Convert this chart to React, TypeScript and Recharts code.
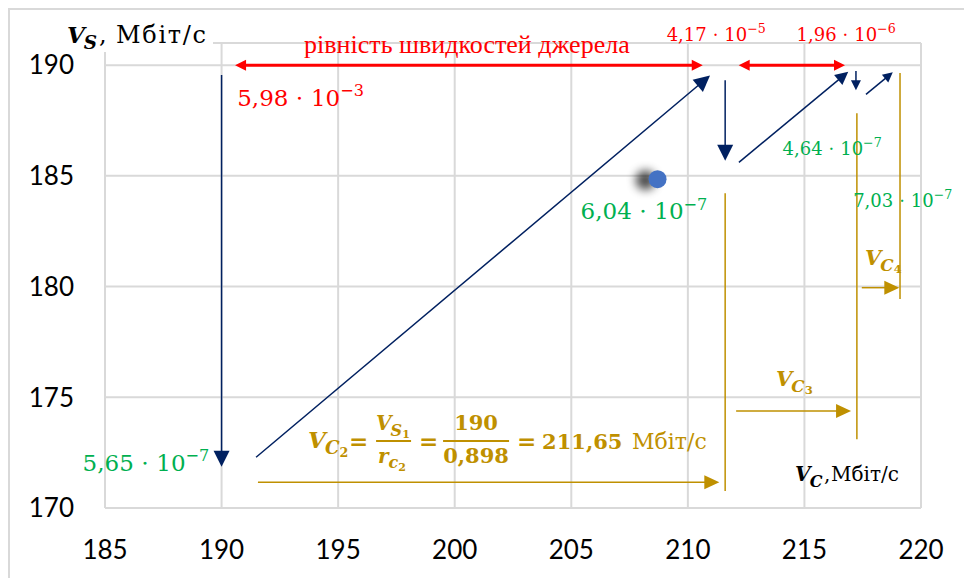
import React from "react"
import {
  ScatterChart,
  Scatter,
  XAxis,
  YAxis,
  CartesianGrid,
  ReferenceLine,
  ReferenceDot,
} from "recharts"

// axis ticks
const xTicks = [185, 190, 195, 200, 205, 210, 215, 220]
const yTicks = [170, 175, 180, 185, 190]

// the single measured point (V_C, V_S)
const points = [{ vc: 208.7, vs: 184.85 }]

// navy arrows: from (x1,y1) to (x2,y2) in Mbit/s
const navyArrows = [
  { x1: 190, y1: 189.55, x2: 190, y2: 171.86 },
  { x1: 191.48, y1: 172.29, x2: 210.95, y2: 189.53 },
  { x1: 211.6, y1: 189.32, x2: 211.6, y2: 185.68 },
  { x1: 212.19, y1: 185.61, x2: 216.88, y2: 189.7 },
  { x1: 217.21, y1: 189.73, x2: 217.21, y2: 188.87 },
  { x1: 217.64, y1: 188.68, x2: 218.79, y2: 189.68 },
]

// red double arrows at V_S = 190
const redArrows = [
  { x1: 190.58, x2: 210.64, y: 190 },
  { x1: 212.18, x2: 216.74, y: 190 },
]

// gold V_C arrows and boundary lines
const goldArrows = [
  { x1: 191.56, x2: 211.35, y: 171.16 },
  { x1: 212.07, x2: 217.0, y: 174.38 },
  { x1: 217.46, x2: 219.07, y: 179.95 },
]
const goldLines = [
  { x: 211.6, y1: 184.21, y2: 170.77 },
  { x: 217.25, y1: 187.83, y2: 173.1 },
  { x: 219.1, y1: 189.64, y2: 179.44 },
]

// error values written next to the steps
const redValues = [
  { vc: 190.67, vs: 188.15, m: "5,98", e: "3" },
  { vc: 209.09, vs: 191.09, m: "4,17", e: "5" },
  { vc: 214.66, vs: 191.09, m: "1,96", e: "6" },
]
const greenValues = [
  { vc: 214.06, vs: 185.94, m: "4,64", e: "7" },
  { vc: 205.4, vs: 183.04, m: "6,04", e: "7" },
  { vc: 217.09, vs: 183.61, m: "7,03", e: "7" },
  { vc: 184.04, vs: 171.68, m: "5,65", e: "7" },
]
const redSizes = [23, 18, 18]
const greenSizes = [18, 23, 18, 23]

const titleText = "рівність швидкостей джерела"
const unit = "Мбіт/с"

const SERIF = "'DejaVu Serif', serif"
const TIMES = "'Liberation Serif', serif"
const NAVY = "#002060"
const RED = "#FF0000"
const GREEN = "#00B050"
const GOLD = "#BF9000"

const arrowShape =
  (color: string, width: number, hl: number, hw: number, both = false) =>
  (p: any) => {
    const { x1, y1, x2, y2 } = p
    const dx = x2 - x1
    const dy = y2 - y1
    const len = Math.hypot(dx, dy) || 1
    const ux = dx / len
    const uy = dy / len
    const tri = (tx: number, ty: number, ax: number, ay: number) =>
      `${tx},${ty} ${tx - ax * hl - ay * hw},${ty - ay * hl + ax * hw} ${tx - ax * hl + ay * hw},${ty - ay * hl - ax * hw}`
    const sx = both ? x1 + ux * hl * 0.8 : x1
    const sy = both ? y1 + uy * hl * 0.8 : y1
    return (
      <g>
        <line
          x1={sx}
          y1={sy}
          x2={x2 - ux * hl * 0.8}
          y2={y2 - uy * hl * 0.8}
          stroke={color}
          strokeWidth={width}
        />
        <polygon points={tri(x2, y2, ux, uy)} fill={color} />
        {both && <polygon points={tri(x1, y1, -ux, -uy)} fill={color} />}
      </g>
    )
  }

const plainLine = (color: string, width: number) => (p: any) =>
  <line x1={p.x1} y1={p.y1} x2={p.x2} y2={p.y2} stroke={color} strokeWidth={width} />

const sciShape = (m: string, e: string, size: number, color: string) => (p: any) =>
  (
    <text x={p.cx} y={p.cy} fontFamily={SERIF} fontSize={size} fill={color}>
      {m} ⋅ 10
      <tspan dy={-size * 0.42} fontSize={size * 0.7}>
        −{e}
      </tspan>
    </text>
  )

// V with subscript letter (and optional sub-subscript)
function Var({ x, y, sub, sub2, size, color }: any) {
  return (
    <text x={x} y={y} fontFamily={SERIF} fontWeight="bold" fill={color}>
      <tspan fontStyle="italic" fontSize={size}>V</tspan>
      <tspan fontStyle="italic" fontSize={size * 0.8} dx={-1} dy={size * 0.28}>
        {sub}
      </tspan>
      {sub2 && (
        <tspan fontSize={size * 0.55} dy={size * 0.12}>
          {sub2}
        </tspan>
      )}
    </text>
  )
}

const formulaShape = (p: any) => {
  const x = p.cx
  const y = p.cy
  const b = { fontFamily: SERIF, fontWeight: "bold", fill: GOLD } as any
  return (
    <g>
      <Var x={x} y={y} sub="C" sub2="2" size={23} color={GOLD} />
      <text x={x + 41} y={y + 1} {...b} fontSize={23}>=</text>
      <Var x={x + 68} y={y - 18} sub="S" sub2="1" size={20} color={GOLD} />
      <line x1={x + 68} x2={x + 103} y1={y - 7} y2={y - 7} stroke={GOLD} strokeWidth={2} />
      <text x={x + 70} y={y + 15} {...b} fontSize={20}>
        <tspan fontStyle="italic">r</tspan>
        <tspan fontStyle="italic" fontSize={16} dy={5}>c</tspan>
        <tspan fontSize={11} dy={3}>2</tspan>
      </text>
      <text x={x + 111} y={y + 1} {...b} fontSize={23}>=</text>
      <text x={x + 168} y={y - 18} {...b} fontSize={21} textAnchor="middle">190</text>
      <line x1={x + 135} x2={x + 201} y1={y - 7} y2={y - 7} stroke={GOLD} strokeWidth={2} />
      <text x={x + 168} y={y + 15} {...b} fontSize={21} textAnchor="middle">0,898</text>
      <text x={x + 209} y={y + 1} {...b} fontSize={23}>=</text>
      <text x={x + 234} y={y + 1} {...b} fontSize={21}>211,65</text>
      <text x={x + 324} y={y + 1} fontFamily={SERIF} fill={GOLD} fontSize={22}>{unit}</text>
    </g>
  )
}

const pointShape = (p: any) => (
  <g>
    <defs>
      <filter id="shadowBlur" x="-100%" y="-100%" width="300%" height="300%">
        <feGaussianBlur stdDeviation="5" />
      </filter>
    </defs>
    <circle cx={p.cx - 12} cy={p.cy + 1} r={10} fill="#000" opacity={0.7} filter="url(#shadowBlur)" />
    <circle cx={p.cx} cy={p.cy} r={9} fill="#4472C4" />
  </g>
)

export default function App() {
  const tick = { fill: "#000", fontSize: 26, fontFamily: "Lato, sans-serif" }
  return (
    <div
      style={{
        position: "absolute",
        left: 0,
        top: 0,
        width: 964,
        height: 578,
        overflow: "hidden",
        background: "#fff",
      }}
    >
      <div
        style={{
          position: "absolute",
          left: 8,
          top: 8,
          width: 1000,
          height: 1000,
          border: "2px solid #D9D9D9",
        }}
      />
      <div style={{ position: "absolute", left: 0, top: 0 }}>
        <ScatterChart width={964} height={578} margin={{ top: 43, right: 43, bottom: 10, left: 35 }}>
          <CartesianGrid stroke="#D9D9D9" strokeWidth={2} />
          <XAxis
            type="number"
            dataKey="vc"
            domain={[185, 220]}
            ticks={xTicks}
            tick={tick}
            tickLine={false}
            axisLine={false}
            tickSize={0}
            tickMargin={33}
            height={60}
            interval={0}
          />
          <YAxis
            type="number"
            dataKey="vs"
            domain={[170, 191]}
            ticks={yTicks}
            tick={tick}
            tickLine={false}
            axisLine={false}
            tickSize={0}
            tickMargin={31}
            width={70}
            interval={0}
          />

          {/* V_S axis title */}
          <ReferenceDot
            x={183.37}
            y={191}
            ifOverflow="visible"
            shape={(p: any) => (
              <g>
                <rect x={p.cx - 4} y={p.cy - 22} width={150} height={31} fill="#fff" />
                <Var x={p.cx} y={p.cy} sub="S" size={23} color="#000" />
                <text x={p.cx + 32} y={p.cy} fontFamily={SERIF} fontSize={24} fill="#000">
                  ,
                </text>
                <text x={p.cx + 49} y={p.cy} fontFamily={SERIF} fontSize={24} fill="#000" textLength={90} lengthAdjust="spacing">
                  {unit}
                </text>
              </g>
            )}
          />

          {goldLines.map((d, i) => (
            <ReferenceLine
              key={`gl${i}`}
              segment={[
                { x: d.x, y: d.y1 },
                { x: d.x, y: d.y2 },
              ]}
              ifOverflow="visible"
              shape={plainLine(GOLD, 1.5)}
            />
          ))}
          {goldArrows.map((d, i) => (
            <ReferenceLine
              key={`ga${i}`}
              segment={[
                { x: d.x1, y: d.y },
                { x: d.x2, y: d.y },
              ]}
              ifOverflow="visible"
              shape={arrowShape(GOLD, 1.5, 15, 7)}
            />
          ))}
          {navyArrows.map((d, i) => (
            <ReferenceLine
              key={`na${i}`}
              segment={[
                { x: d.x1, y: d.y1 },
                { x: d.x2, y: d.y2 },
              ]}
              ifOverflow="visible"
              shape={arrowShape(NAVY, 1.5, i < 3 ? 16 : i === 3 ? 13 : 10, i < 3 ? 8 : i === 3 ? 6.5 : 5)}
            />
          ))}
          {redArrows.map((d, i) => (
            <ReferenceLine
              key={`ra${i}`}
              segment={[
                { x: d.x1, y: d.y },
                { x: d.x2, y: d.y },
              ]}
              ifOverflow="visible"
              shape={arrowShape(RED, 3, 11, 5.5, true)}
            />
          ))}

          <ReferenceDot
            x={193.54}
            y={190.55}
            ifOverflow="visible"
            shape={(p: any) => (
              <text x={p.cx} y={p.cy} fontFamily={TIMES} fontSize={26} fill={RED}>
                {titleText}
              </text>
            )}
          />
          {redValues.map((d, i) => (
            <ReferenceDot key={`rv${i}`} x={d.vc} y={d.vs} ifOverflow="visible" shape={sciShape(d.m, d.e, redSizes[i], RED)} />
          ))}
          {greenValues.map((d, i) => (
            <ReferenceDot key={`gv${i}`} x={d.vc} y={d.vs} ifOverflow="visible" shape={sciShape(d.m, d.e, greenSizes[i], GREEN)} />
          ))}

          <ReferenceDot
            x={213.78}
            y={175.51}
            ifOverflow="visible"
            shape={(p: any) => <Var x={p.cx} y={p.cy} sub="C" sub2="3" size={21} color={GOLD} />}
          />
          <ReferenceDot
            x={217.6}
            y={180.97}
            ifOverflow="visible"
            shape={(p: any) => <Var x={p.cx} y={p.cy} sub="C" sub2="4" size={21} color={GOLD} />}
          />
          <ReferenceDot x={193.71} y={172.71} ifOverflow="visible" shape={formulaShape} />

          {/* V_C axis title */}
          <ReferenceDot
            x={214.6}
            y={171.22}
            ifOverflow="visible"
            shape={(p: any) => (
              <g>
                <Var x={p.cx} y={p.cy} sub="C" size={20} color="#000" />
                <text x={p.cx + 29} y={p.cy} fontFamily={SERIF} fontSize={20} fill="#000">
                  ,
                </text>
                <text x={p.cx + 36} y={p.cy} fontFamily={SERIF} fontSize={20} fill="#000">
                  {unit}
                </text>
              </g>
            )}
          />

          <Scatter data={points} shape={pointShape} isAnimationActive={false} />
        </ScatterChart>
      </div>
    </div>
  )
}
